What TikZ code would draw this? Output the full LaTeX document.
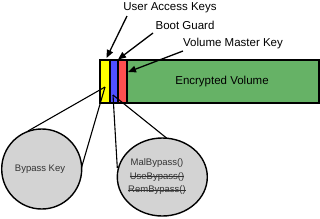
\documentclass[tikz,border=0pt]{standalone}
\usepackage{fontspec}
\setmainfont{Liberation Sans}
\usetikzlibrary{arrows.meta,shapes.geometric}
\definecolor{keyyellow}{RGB}{255,255,0}
\definecolor{keyblue}{RGB}{80,80,255}
\definecolor{keyred}{RGB}{255,80,80}
\definecolor{volgreen}{RGB}{102,178,102}
\definecolor{bubblegray}{RGB}{211,211,211}
\newcommand\strk[1]{\setbox0\hbox{#1}\leavevmode\hbox to \wd0{\rlap{#1}\rule[0.27em]{\wd0}{0.6pt}}}
\begin{document}
\begin{tikzpicture}[x=1pt,y=-1pt,
  seg/.style={draw=black,line width=1.4pt},
  lbl/.style={font=\fontsize{11.5}{13}\selectfont,inner sep=0pt},
  ptr/.style={draw=black,line width=1.3pt,-{Triangle[length=8pt,width=6.5pt]}},
  bubble/.style={draw=black,line width=1.4pt,fill=bubblegray},
  tan/.style={draw=black,line width=1.1pt},
  btext/.style={font=\fontsize{9.5}{13.5}\selectfont,text=black!80,align=center,inner sep=0pt}]
\useasboundingbox (0,0) rectangle (320,218);
% bar
\path[seg,fill=volgreen] (127,60) rectangle (319,103);
\path[seg,fill=keyyellow] (100,60) rectangle (110,103);
\path[seg,fill=keyblue] (110,60) rectangle (118,103);
\path[seg,fill=keyred] (118,60) rectangle (127,103);
\node[lbl] (ev) at (222,82) {Encrypted Volume};
% labels
\node[lbl] (uak) at (170,7.5) {User Access Keys};
\node[lbl] (bg) at (185,25.5) {Boot Guard};
\node[lbl] (vmk) at (233,43.5) {Volume Master Key};
\coordinate (uaks) at (127,16);
\coordinate (uakt) at (106.5,58);
\coordinate (bgs) at (153,33);
\coordinate (bgt) at (118,59.5);
\coordinate (vmks) at (183,51);
\coordinate (vmkt) at (128,72);
\draw[ptr] (uaks) -- (uakt);
\draw[ptr] (bgs) -- (bgt);
\draw[ptr] (vmks) -- (vmkt);
% bubbles
\coordinate (apexa) at (105,87);
\coordinate (apexb) at (113,95);
\coordinate (ta1) at (28,131);
\coordinate (ta2) at (80.5,171);
\coordinate (tb1) at (117.3,168);
\coordinate (tb2) at (174,144);
\draw[tan] (apexa) -- (ta1);
\draw[tan] (apexa) -- (ta2);
\draw[tan] (apexb) -- (tb1);
\draw[tan] (apexb) -- (tb2);
\node[bubble,circle,minimum size=80pt,inner sep=0pt] (bk) at (41.7,169) {};
\node[bubble,ellipse,minimum width=90pt,minimum height=78pt,inner sep=0pt] (bp) at (162.3,177) {};
\node[btext] (bkt) at (40,169) {Bypass Key};
\node[btext] (bpt) at (157,177) {MalBypass()\\\strk{UseBypass()}\\\strk{RemBypass()}};
\end{tikzpicture}
\end{document}
